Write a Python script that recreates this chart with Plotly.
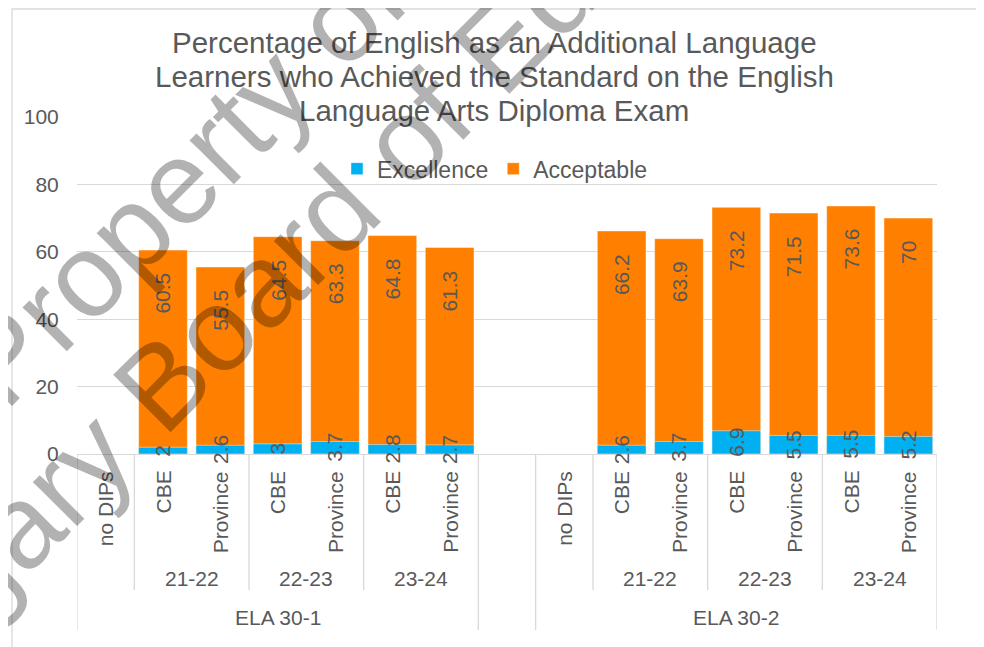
import plotly.graph_objects as go

# ---------------- data ----------------
courses = ["ELA 30-1", "ELA 30-2"]
years = ["21-22", "22-23", "23-24"]
groups = ["CBE", "Province"]
no_dips_label = "no DIPs"

excellence_ela301 = [2, 2.6, 3, 3.7, 2.8, 2.7]
acceptable_ela301 = [60.5, 55.5, 64.5, 63.3, 64.8, 61.3]
excellence_ela302 = [2.6, 3.7, 6.9, 5.5, 5.5, 5.2]
acceptable_ela302 = [66.2, 63.9, 73.2, 71.5, 73.6, 70]

excellence_by_course = [excellence_ela301, excellence_ela302]
acceptable_by_course = [acceptable_ela301, acceptable_ela302]

title_lines = ["Percentage of English as an Additional Language",
               "Learners who Achieved the Standard on the English",
               "Language Arts Diploma Exam"]
watermark_lines = ["Property of", "Calgary Board of Education"]

# ---------------- layout geometry ----------------
OFF = 8                      # page body margin around the figure
W, H = 976, 639
L, R, T, B = 69, 47, 109, 193
PW = W - L - R
PH = H - T - B


def px_x(p):
    """page pixel x -> paper x"""
    return (p - OFF - L) / PW


def px_y(p):
    """page pixel y -> paper y"""
    return (OFF + T + PH - p) / PH


FONT = "Liberation Sans, Arial, sans-serif"
TXT = "#595959"
GRID = "#D9D9D9"
C_EXC = "#00B0F0"
C_ACC = "#FF8000"

# ---------------- build category slots ----------------
bar_x, bar_exc, bar_acc = [], [], []
lvl1 = []
year_spans = []
course_spans = []
idx = 0
for ci, course in enumerate(courses):
    if ci > 0:
        idx += 1  # blank separator category
    c_start = idx
    lvl1.append((idx, no_dips_label))
    idx += 1
    k = 0
    for year in years:
        y_start = idx
        for g in groups:
            lvl1.append((idx, g))
            bar_x.append(idx)
            bar_exc.append(excellence_by_course[ci][k])
            bar_acc.append(acceptable_by_course[ci][k])
            k += 1
            idx += 1
        year_spans.append((y_start, idx - 1, year))
    course_spans.append((c_start, idx - 1, course))
n_slots = idx

fig = go.Figure()
fig.add_trace(go.Bar(x=bar_x, y=bar_acc, name="Acceptable", width=0.85,
                     marker=dict(color=C_ACC, line=dict(color="rgba(255,255,255,0.45)", width=1))))
fig.add_trace(go.Bar(x=bar_x, y=bar_exc, name="Excellence", width=0.85,
                     marker=dict(color=C_EXC, line=dict(color="rgba(255,255,255,0.45)", width=1))))

ann = []
shapes = []

# data labels
for x, a, e in zip(bar_x, bar_acc, bar_exc):
    ann.append(dict(x=x, y=a, xref="x", yref="y", text=f"{a:g}", showarrow=False,
                    textangle=-90, yanchor="top", xanchor="center", yshift=-21,
                    font=dict(family=FONT, size=21, color=TXT)))
    ann.append(dict(x=x, y=e / 2, xref="x", yref="y", text=f"{e:g}", showarrow=False,
                    textangle=-90, yanchor="middle", xanchor="center",
                    font=dict(family=FONT, size=21, color=TXT)))

# level-1 category labels
for s, lab in lvl1:
    ann.append(dict(x=s, y=px_y(469), xref="x", yref="paper", text=lab, showarrow=False,
                    textangle=-90, yanchor="top", xanchor="center",
                    font=dict(family=FONT, size=21, color=TXT)))
# year labels + dividers
for s0, s1, lab in year_spans:
    ann.append(dict(x=(s0 + s1) / 2, y=px_y(578), xref="x", yref="paper", text=lab,
                    showarrow=False, yanchor="middle", xanchor="center",
                    font=dict(family=FONT, size=21, color=TXT)))
    shapes.append(dict(type="line", xref="x", yref="paper", x0=s0 - 0.5, x1=s0 - 0.5,
                       y0=0, y1=px_y(590), line=dict(color=GRID, width=1.3)))
# course labels + dividers
for s0, s1, lab in course_spans:
    ann.append(dict(x=(s0 + s1) / 2, y=px_y(617), xref="x", yref="paper", text=lab,
                    showarrow=False, yanchor="middle", xanchor="center",
                    font=dict(family=FONT, size=21, color=TXT)))
    for xb in (s0 - 0.5, s1 + 0.5):
        shapes.append(dict(type="line", xref="x", yref="paper", x0=xb, x1=xb,
                           y0=0, y1=px_y(630), line=dict(color=GRID, width=1.3)))

# title (three lines)
for ty, line in zip([42.8, 76.2, 110.3], title_lines):
    ann.append(dict(x=px_x(494), y=px_y(ty), xref="paper", yref="paper", text=line,
                    showarrow=False, xanchor="center", yanchor="middle",
                    font=dict(family=FONT, size=29.5, color=TXT)))

# watermark
for (cx, cy), line in zip([(180, 180), (334, 211)], watermark_lines):
    ann.append(dict(x=px_x(cx), y=px_y(cy), xref="paper", yref="paper", text=line,
                    showarrow=False, xanchor="center", yanchor="middle", textangle=-45,
                    font=dict(family=FONT, size=118, color="rgba(0,0,0,0.3)")))

# chart border
shapes.append(dict(type="rect", xref="paper", yref="paper", x0=px_x(12), x1=px_x(977),
                   y0=px_y(670), y1=px_y(9), line=dict(color=GRID, width=1.3), layer="below"))

fig.update_layout(
    width=W, height=H,
    margin=dict(l=L, r=R, t=T, b=B, pad=0),
    paper_bgcolor="white", plot_bgcolor="white",
    barmode="overlay",
    font=dict(family=FONT, color=TXT),
    showlegend=True,
    legend=dict(orientation="h", x=px_x(495), xanchor="center", y=px_y(168.7),
                yanchor="middle", traceorder="reversed",
                font=dict(family=FONT, size=23, color=TXT), bgcolor="rgba(0,0,0,0)"),
    xaxis=dict(range=[-0.5, n_slots - 0.5], showticklabels=False, showgrid=False,
               zeroline=False, showline=True, linecolor=GRID, linewidth=1.3, ticks=""),
    yaxis=dict(range=[0, 100], dtick=20, showgrid=True, gridcolor=GRID, gridwidth=1.3,
               zeroline=False, showline=False, ticks="outside", ticklen=13,
               tickcolor="rgba(0,0,0,0)", tickfont=dict(family=FONT, size=21, color=TXT)),
    annotations=ann, shapes=shapes,
)

fig.write_html("out.html")
